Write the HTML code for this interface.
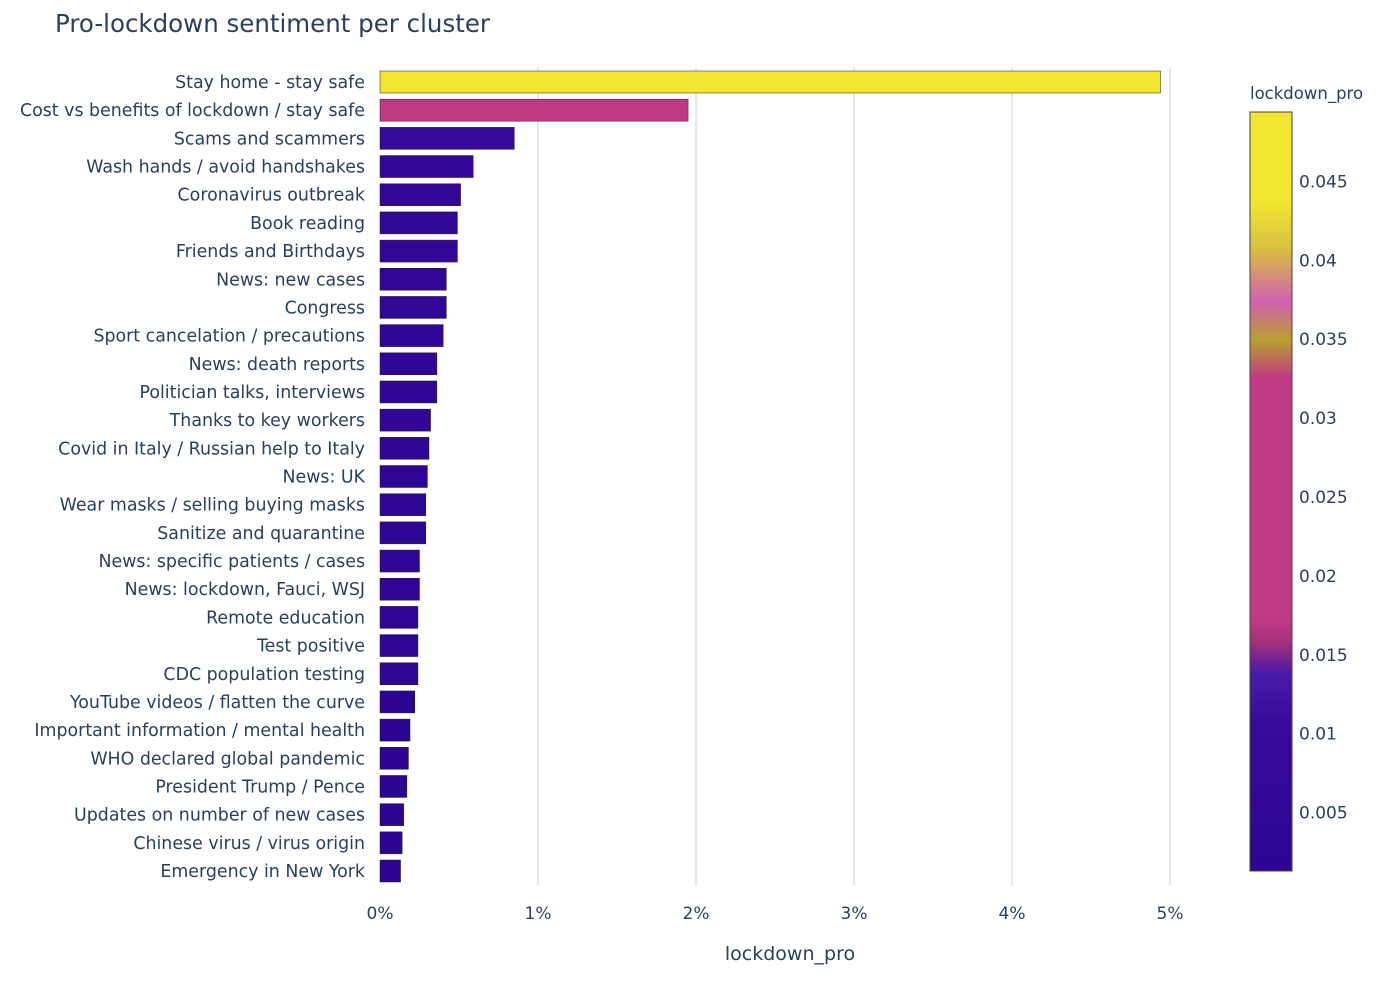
<!DOCTYPE html>
<html><head><meta charset="utf-8"><style>
body{margin:0;background:#fff;font-family:"DejaVu Sans",sans-serif;}
svg text{font-family:"DejaVu Sans",sans-serif;fill:#2a3f5f;}
</style></head><body>
<svg id="chart" width="1400" height="978" xmlns="http://www.w3.org/2000/svg">
<defs>
<linearGradient id="cbgrad" x1="0" y1="1" x2="0" y2="0">
<stop offset="0" stop-color="#2c0594"/>
<stop offset="0.2" stop-color="#3a0a9a"/>
<stop offset="0.26" stop-color="#4a1aa8"/>
<stop offset="0.3" stop-color="#a0307a"/>
<stop offset="0.33" stop-color="#c03a83"/>
<stop offset="0.65" stop-color="#c03a83"/>
<stop offset="0.7" stop-color="#b8a030"/>
<stop offset="0.75" stop-color="#d060b0"/>
<stop offset="0.82" stop-color="#d8c040"/>
<stop offset="0.88" stop-color="#f2e530"/>
<stop offset="1" stop-color="#f2e530"/>
</linearGradient>
</defs>
<text x="55" y="32" font-size="24.5">Pro-lockdown sentiment per cluster</text>
<g id="grid"></g><g id="bars"></g><g id="ylabels"></g><g id="xticks"></g>
<text x="790" y="960" font-size="19" text-anchor="middle">lockdown_pro</text>
<text x="1250" y="99" font-size="16.5">lockdown_pro</text>
<rect x="1250" y="112" width="42" height="759" fill="url(#cbgrad)" stroke="#444" stroke-width="1"/>
<g id="cbticks"></g>
</svg>
<script>
const categories=["Stay home - stay safe","Cost vs benefits of lockdown / stay safe","Scams and scammers","Wash hands / avoid handshakes","Coronavirus outbreak","Book reading","Friends and Birthdays","News: new cases","Congress","Sport cancelation / precautions","News: death reports","Politician talks, interviews","Thanks to key workers","Covid in Italy / Russian help to Italy","News: UK","Wear masks / selling buying masks","Sanitize and quarantine","News: specific patients / cases","News: lockdown, Fauci, WSJ","Remote education","Test positive","CDC population testing","YouTube videos / flatten the curve","Important information / mental health","WHO declared global pandemic","President Trump / Pence","Updates on number of new cases","Chinese virus / virus origin","Emergency in New York"];
const values=[0.0494,0.0195,0.0085,0.0059,0.0051,0.0049,0.0049,0.0042,0.0042,0.0040,0.0036,0.0036,0.0032,0.0031,0.0030,0.0029,0.0029,0.0025,0.0025,0.0024,0.0024,0.0024,0.0022,0.0019,0.0018,0.0017,0.0015,0.0014,0.0013];
const xTicks=[0,0.01,0.02,0.03,0.04,0.05];
const xTickLabels=["0%","1%","2%","3%","4%","5%"];
const cbTicks=[0.005,0.01,0.015,0.02,0.025,0.03,0.035,0.04,0.045];
const cbTickLabels=["0.005","0.01","0.015","0.02","0.025","0.03","0.035","0.04","0.045"];
const NS="http://www.w3.org/2000/svg";
const x=v=>380+v*15800;
const y=i=>82+i*(789/28);
const cbMin=0.0013,cbMax=0.0494;
const cbY=v=>871-(v-cbMin)/(cbMax-cbMin)*759;
const stops=[[0,[44,5,148]],[0.2,[58,10,154]],[0.26,[74,26,168]],[0.33,[192,58,131]],[0.65,[192,58,131]],[0.88,[242,229,48]],[1,[242,229,48]]];
function color(v){let t=(v-cbMin)/(cbMax-cbMin);t=Math.max(0,Math.min(1,t));
for(let k=1;k<stops.length;k++){if(t<=stops[k][0]){const a=stops[k-1],b=stops[k];const f=(t-a[0])/(b[0]-a[0]||1);
return "rgb("+a[1].map((c,j)=>Math.round(c+(b[1][j]-c)*f)).join(",")+")";}}return "rgb(242,229,48)";}
function mk(tag,attrs,parent,txt){const e=document.createElementNS(NS,tag);for(const k in attrs)e.setAttribute(k,attrs[k]);if(txt!==undefined)e.textContent=txt;document.getElementById(parent).appendChild(e);return e;}
xTicks.forEach((t,i)=>{
 if(i>0){const g=mk("line",{x1:x(t),x2:x(t),y1:68,y2:886,stroke:"#d0d0d0","stroke-width":1},"grid");
 
 }
 const l=mk("text",{x:x(t),y:919,"font-size":17,"text-anchor":"middle"},"xticks",xTickLabels[i]);
 
 
});
categories.forEach((c,i)=>{
 const r=mk("rect",{x:x(0),y:y(i)-11,width:x(values[i])-x(0),height:22,fill:color(values[i]),stroke:"#222","stroke-width":0.5},"bars");
 
 
 const l=mk("text",{x:365,y:y(i)+6,"font-size":17.4,"text-anchor":"end"},"ylabels",c);
 
 
});
cbTicks.forEach((t,i)=>{
 const l=mk("text",{x:1299,y:cbY(t)+6,"font-size":17},"cbticks",cbTickLabels[i]);
 
 
});
</script>
</body></html>
